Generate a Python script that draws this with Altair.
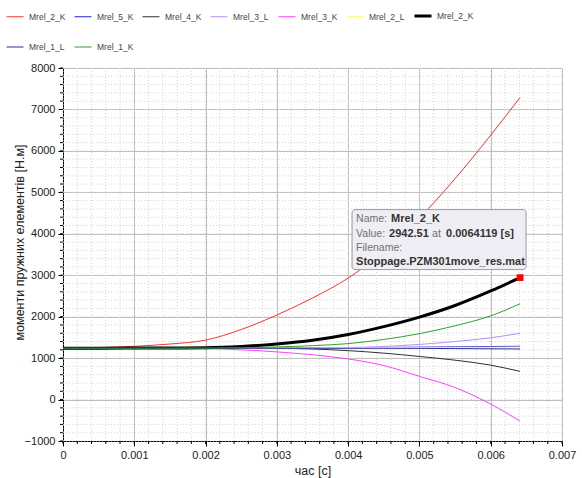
import altair as alt
import pandas as pd

# ---- data ----
t = [0, 0.0005, 0.001, 0.0015, 0.002, 0.0025, 0.003, 0.0035, 0.004, 0.0045,
     0.005, 0.0055, 0.006, 0.0064119]

series_names = ["Mrel_2_K", "Mrel_5_K", "Mrel_4_K", "Mrel_3_L", "Mrel_3_K",
                "Mrel_2_L", "Mrel_2_K ", "Mrel_1_L", "Mrel_1_K"]
series_colors = ["#ff3030", "#2020e8", "#303030", "#b88cff", "#ff40ff",
                 "#ffff60", "#000000", "#303090", "#30a030"]
series_widths = [1, 1, 1, 1, 1, 1, 3, 1, 1]

mrel_2_k_red = [1250, 1255, 1285, 1340, 1435, 1690, 2040, 2450, 2930, 3580, 4380, 5330, 6380, 7290]
mrel_5_k = [1240, 1240, 1240, 1240, 1242, 1244, 1246, 1248, 1250, 1257, 1265, 1273, 1280, 1285]
mrel_4_k = [1240, 1240, 1240, 1240, 1240, 1238, 1235, 1220, 1180, 1120, 1040, 950, 830, 680]
mrel_3_l = [1240, 1240, 1240, 1240, 1240, 1240, 1242, 1246, 1255, 1280, 1330, 1400, 1490, 1600]
mrel_3_k = [1240, 1240, 1240, 1238, 1230, 1200, 1150, 1080, 980, 820, 560, 290, -110, -520]
mrel_2_l = [1240, 1240, 1240, 1242, 1244, 1247, 1250, 1252, 1254, 1256, 1258, 1260, 1262, 1265]
mrel_2_k_black = [1240, 1240, 1242, 1245, 1250, 1280, 1340, 1430, 1570, 1760, 1990, 2270, 2620, 2942.51]
mrel_1_l = [1240, 1240, 1240, 1240, 1240, 1240, 1240, 1239, 1238, 1237, 1235, 1230, 1225, 1220]
mrel_1_k = [1240, 1240, 1240, 1240, 1242, 1250, 1270, 1300, 1350, 1450, 1590, 1780, 2020, 2312]

all_series = [mrel_2_k_red, mrel_5_k, mrel_4_k, mrel_3_l, mrel_3_k,
              mrel_2_l, mrel_2_k_black, mrel_1_l, mrel_1_k]
draw_order = [5, 7, 1, 3, 2, 4, 0, 6, 8]

x_major = [0, 0.001, 0.002, 0.003, 0.004, 0.005, 0.006, 0.007]
y_major = [-1000, 0, 1000, 2000, 3000, 4000, 5000, 6000, 7000, 8000]
x_minor = [round(i * 0.0002, 4) for i in range(36)]
y_minor = list(range(-1000, 8001, 200))

tip_name = "Mrel_2_K"
tip_file = "Stoppage.PZM301move_res.mat"

rows = []
for name, vals, order, w in zip(series_names, all_series, draw_order, series_widths):
    for ti, v in zip(t, vals):
        rows.append({"t": ti, "v": v, "series": name, "order": order, "w": w})
df = pd.DataFrame(rows)

tip_df = pd.DataFrame({"t": [t[-1]], "v": [mrel_2_k_black[-1]],
                       "vs": [f"{mrel_2_k_black[-1]:.2f}"],
                       "ts": [f"{t[-1]} [s]"]})

FONT = "Liberation Sans"
H = 373
xs = alt.Scale(domain=[0, 0.007], nice=False, zero=False)
ys = alt.Scale(domain=[-1000, 8000], nice=False, zero=False)
XT = "час [с]"
YT = "моменти пружних елементів [Н.м]"
xaxis = alt.Axis(values=x_major, grid=True, gridColor="#bdbdbd",
                 format="~g", labelFlush=False)
yaxis = alt.Axis(values=y_major, grid=True, gridColor="#bdbdbd", format="d",
                 titleX=-37, titleY=174)


def X(f):
    return alt.X(f, scale=xs, axis=xaxis, title=XT)


def Y(f):
    return alt.Y(f, scale=ys, axis=yaxis, title=YT)


xm = pd.DataFrame({"t": x_minor})
ym = pd.DataFrame({"v": y_minor})

minor_x = alt.Chart(xm).mark_rule(
    stroke="#d4d4d4", strokeDash=[1, 2], strokeWidth=1
).encode(x=X("t:Q"))

minor_y = alt.Chart(ym).mark_rule(
    stroke="#d4d4d4", strokeDash=[1, 2], strokeWidth=1
).encode(y=Y("v:Q"))

minor_xt = alt.Chart(xm).mark_rule(stroke="#000000", strokeWidth=1).encode(
    x=X("t:Q"), y=alt.value(H), y2=alt.value(H + 3))

minor_yt = alt.Chart(ym).mark_rule(stroke="#000000", strokeWidth=1).encode(
    y=Y("v:Q"), x=alt.value(-3), x2=alt.value(0))

thick_name = series_names[6]
legend = alt.Legend(
    orient="none", legendX=-57, legendY=-61, direction="horizontal", columns=7,
    symbolType="stroke", symbolSize=289, labelFont=FONT, labelFontSize=8.5,
    labelColor="#444444", labelOffset=5, columnPadding=2, rowPadding=16,
    gridAlign="all", padding=0,
    symbolStrokeWidth=alt.ExprRef(
        expr=f"((datum && datum.value === '{thick_name}') ? 3 : 1)"),
)

lines = alt.Chart(df).mark_line(interpolate="monotone").encode(
    x=X("t:Q"),
    y=Y("v:Q"),
    color=alt.Color("series:N", title=None,
                    scale=alt.Scale(domain=series_names, range=series_colors),
                    legend=legend),
    strokeWidth=alt.StrokeWidth("w:Q", scale=None, legend=None),
    order=alt.Order("order:Q"),
    detail="series:N",
)

marker = alt.Chart(tip_df).mark_square(size=45, color="#ff0000", opacity=1).encode(
    x=X("t:Q"), y=Y("v:Q"))

box = alt.Chart(tip_df).mark_rect(
    fill="#eeeef4", stroke="#9a9aa0", strokeWidth=1, cornerRadius=3,
    xOffset=-168, x2Offset=6, yOffset=-68, y2Offset=-8
).encode(x=X("t:Q"), x2="t:Q", y=Y("v:Q"), y2="v:Q")


def txt(text, dx, dy, bold, field=None):
    m = alt.Chart(tip_df).mark_text(
        align="left", baseline="middle", dx=dx, dy=dy, font=FONT,
        fontSize=11 if bold else 10.5, fontWeight="bold" if bold else "normal",
        color="#333333" if bold else "#707070")
    enc = dict(x=X("t:Q"), y=Y("v:Q"))
    if field is None:
        enc["text"] = alt.value(text)
    else:
        enc["text"] = alt.Text(field + ":N")
    return m.encode(**enc)


tips = [
    txt("Name:", -164, -59, False),
    txt(tip_name, -129, -59, True),
    txt("Value:", -164, -44, False),
    txt(None, -131, -44, True, "vs"),
    txt("at", -88, -44, False),
    txt(None, -74, -44, True, "ts"),
    txt("Filename:", -164, -30, False),
    txt(tip_file, -164, -16, True),
]

chart = alt.layer(minor_x, minor_y, minor_xt, minor_yt, lines, marker, box, *tips).properties(
    width=499, height=H,
    autosize=alt.AutoSizeParams(type="none"),
    padding={"left": 63, "top": 68, "right": 20, "bottom": 37},
).configure_view(stroke=None).configure_axis(
    labelFont=FONT, labelFontSize=11, labelColor="#222222",
    titleFont=FONT, titleFontSize=12.5, titleFontWeight="normal", titleColor="#222222",
    domainColor="#000000", tickColor="#000000", tickSize=5, labelPadding=3,
).configure_axisX(titlePadding=4)

chart.save("out.html", embed_options={"renderer": "svg", "actions": False})
